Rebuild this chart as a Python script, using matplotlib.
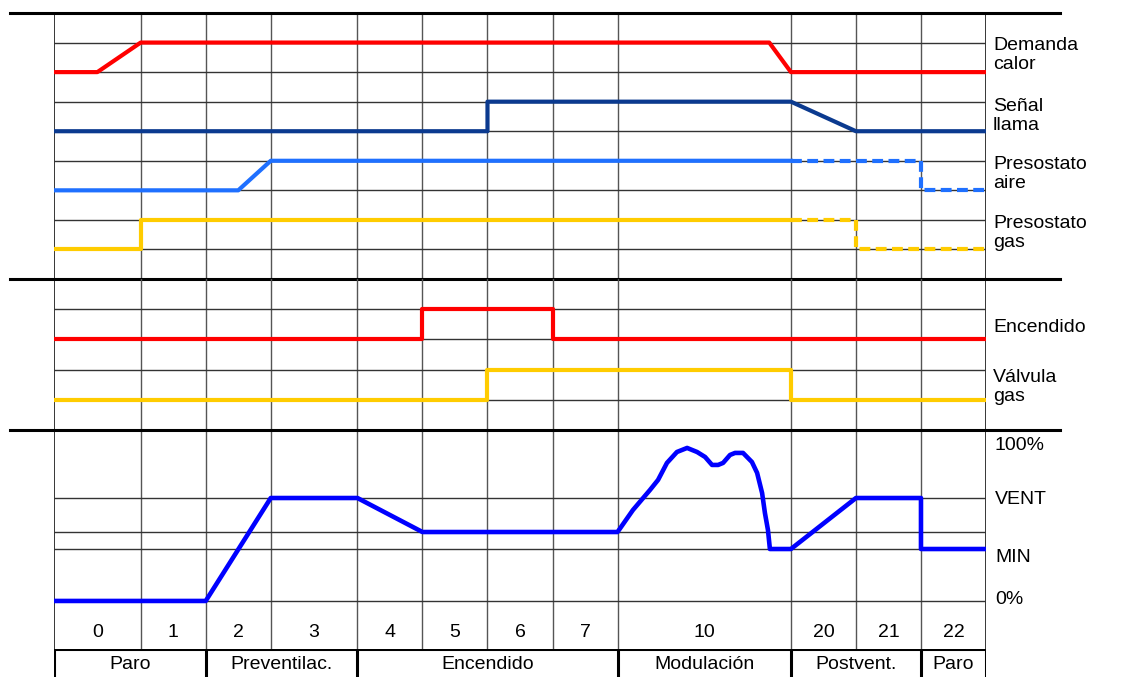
import matplotlib
matplotlib.use("Agg")
import matplotlib.pyplot as plt

# ---------------- data (time in grid units) -------------
col_edges = [0, 4, 7, 10, 14, 17, 20, 23, 26, 34, 37, 40, 43]
col_labels = ["0", "1", "2", "3", "4", "5", "6", "7", "10", "20", "21", "22"]
phase_edges = [0, 7, 14, 26, 34, 40, 43]
phase_labels = ["Paro", "Preventilac.", "Encendido", "Modulación", "Postvent.", "Paro"]

demanda_t = [0, 2, 4, 33, 34, 43]
demanda_s = [0, 0, 1, 1, 0, 0]
llama_t = [0, 20, 20, 34, 37, 43]
llama_s = [0, 0, 1, 1, 0, 0]
aire_t = [0, 8.5, 10, 34]
aire_s = [0, 0, 1, 1]
aire_dash_t = [34, 40, 40, 43]
aire_dash_s = [1, 1, 0, 0]
gas_t = [0, 4, 4, 34]
gas_s = [0, 0, 1, 1]
gas_dash_t = [34, 37, 37, 43]
gas_dash_s = [1, 1, 0, 0]
encendido_t = [0, 17, 17, 23, 23, 43]
encendido_s = [0, 0, 1, 1, 0, 0]
valvula_t = [0, 20, 20, 34, 34, 43]
valvula_s = [0, 0, 1, 1, 0, 0]

# fan speed (%)
lvl_names = ["0%", "MIN", "VENT", "100%"]
lvl_vals = [0, 33.3, 66.0, 100]
ign_level = 44.2
fan_t = [0, 7, 10, 14, 17, 26, 26.71, 27.5, 27.87, 28.28, 28.74, 29.21, 29.67,
         30.04, 30.36, 30.64, 30.87, 31.19, 31.42, 31.79, 32.2, 32.44, 32.67,
         32.8, 32.94, 33.03, 34, 37, 40, 40, 43]
fan_p = [0, 0, 66.0, 66.0, 44.2, 44.2, 58.3, 71.2, 77.6, 88.5, 95.5, 98.1, 95.5,
         92.3, 87.2, 87.2, 88.5, 93.6, 94.9, 94.9, 89.1, 82.1, 69.2,
         56.4, 45.5, 33.3, 33.3, 66.0, 66.0, 33.3, 33.3]

# ---------------- layout -------------------------------------------------------
W, H = 1127, 677
fig = plt.figure(figsize=(W / 100, H / 100), dpi=100)
plt.rcParams['font.family'] = ['Liberation Sans', 'DejaVu Sans']
FS = 14

X0, X1 = 54, 986


def rect(x0, y0, x1, y1):
    return [x0 / W, 1 - y1 / H, (x1 - x0) / W, (y1 - y0) / H]


def fx(px):
    return px / W


def fy(py):
    return 1 - py / H


ax_top = fig.add_axes(rect(X0, 13, X1, 279))
ax_mid = fig.add_axes(rect(X0, 279, X1, 430))
ax_bot = fig.add_axes(rect(X0, 430, X1, 649))
ax_ph = fig.add_axes(rect(X0, 649, X1, 677))

v_top, v_bot = 109.6, -30.8
for ax in (ax_top, ax_mid, ax_bot, ax_ph):
    ax.set_xlim(0, 43)
    ax.axis('off')
ax_top.set_ylim(0, 9)
ax_mid.set_ylim(0, 5)
ax_bot.set_ylim(v_bot, v_top)
ax_ph.set_ylim(0, 1)

GRID_C = '#333333'
VGRID_C = '#555555'

# vertical grid lines
for ax in (ax_top, ax_mid, ax_bot):
    for e in col_edges:
        c = 'black' if e in (0, 43) else VGRID_C
        ax.axvline(e, color=c, lw=1.1 if e in (0, 43) else 1.0, zorder=1)

# horizontal grid lines
for k in range(1, 9):
    ax_top.axhline(k, color=GRID_C, lw=1.0, zorder=1)
for k in range(1, 5):
    ax_mid.axhline(k, color=GRID_C, lw=1.0, zorder=1)
for v in [0, 33.3, ign_level, 66.0]:
    ax_bot.axhline(v, color=GRID_C, lw=1.0, zorder=1)

# thick separators extending beyond the axes
ext0 = (10 - X0) / (X1 - X0)
ext1 = (1060 - X0) / (X1 - X0)
ax_top.axhline(9, xmin=ext0, xmax=ext1, color='black', lw=2.2, clip_on=False, zorder=3)
ax_top.axhline(0, xmin=ext0, xmax=ext1, color='black', lw=2.2, clip_on=False, zorder=3)
ax_bot.axhline(v_top, xmin=ext0, xmax=ext1, color='black', lw=2.2, clip_on=False, zorder=3)

# phase row
ax_ph.axhline(1, color='black', lw=2.2, zorder=3)
for e in phase_edges:
    ax_ph.axvline(e, color='black', lw=2.2, zorder=3)
for i, lab in enumerate(phase_labels):
    ax_ph.text((phase_edges[i] + phase_edges[i + 1]) / 2, 0.43, lab,
               ha='center', va='center', fontsize=FS)

# column numbers
for i, lab in enumerate(col_labels):
    ax_bot.text((col_edges[i] + col_edges[i + 1]) / 2, -20.0, lab,
                ha='center', va='center', fontsize=FS)

# ---------------- signals ------------------------------------------------------
LW = 3.0
RED = '#ff0000'
NAVY = '#0b3a8f'
LBLUE = '#1f70ff'
GOLD = '#ffcc00'
DASH = (0, (2.6, 1.3))


def lvl(states, base):
    return [base + s for s in states]


ax_top.plot(demanda_t, lvl(demanda_s, 7), color=RED, lw=LW, zorder=4)
ax_top.plot(llama_t, lvl(llama_s, 5), color=NAVY, lw=LW, zorder=4)
ax_top.plot(aire_t, lvl(aire_s, 3), color=LBLUE, lw=LW, zorder=4)
ax_top.plot(aire_dash_t, lvl(aire_dash_s, 3), color=LBLUE, lw=LW, ls=DASH, zorder=4)
ax_top.plot(gas_t, lvl(gas_s, 1), color=GOLD, lw=LW, zorder=4)
ax_top.plot(gas_dash_t, lvl(gas_dash_s, 1), color=GOLD, lw=LW, ls=DASH, zorder=4)

ax_mid.plot(encendido_t, lvl(encendido_s, 3), color=RED, lw=LW, zorder=4)
ax_mid.plot(valvula_t, lvl(valvula_s, 1), color=GOLD, lw=LW, zorder=4)

ax_bot.plot(fan_t, fan_p, color='#0000ff', lw=3.3, zorder=4, solid_joinstyle='round')

# ---------------- right-hand labels --------------------------------------------
LX = fx(993)
right_labels = [("Demanda\ncalor", 55), ("Señal\nllama", 116),
                ("Presostato\naire", 174), ("Presostato\ngas", 233),
                ("Encendido", 327), ("Válvula\ngas", 387)]
for txt, py in right_labels:
    fig.text(LX, fy(py), txt, ha='left', va='center', fontsize=FS, linespacing=1.2)

lvl_label_px = [599, 558, 500, 445]
for name, py in zip(lvl_names, lvl_label_px):
    fig.text(fx(995), fy(py), name, ha='left', va='center', fontsize=FS)

fig.savefig("out.png", dpi=100)
